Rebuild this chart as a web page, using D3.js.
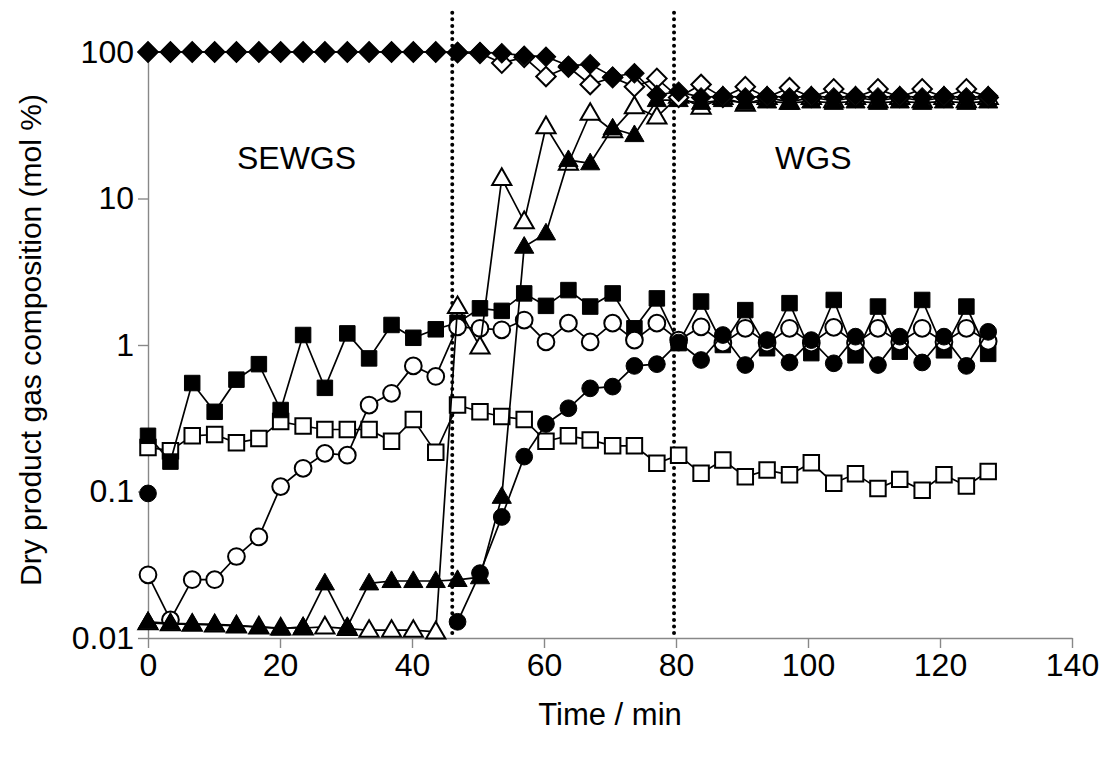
<!DOCTYPE html>
<html>
<head>
<meta charset="utf-8">
<script src="https://cdn.jsdelivr.net/npm/d3@7"></script>
<style>
  body { margin: 0; background: #fff; }
  text { font-family: Arial, "Liberation Sans", sans-serif; fill: #000; }
</style>
</head>
<body>
<div id="chart"></div>
<script>
// sample times (min)
var times = [0, 3.4, 6.7, 10.1, 13.4, 16.8, 20.1, 23.5, 26.8, 30.2, 33.5, 36.9, 40.2, 43.6, 46.9,
  50.3, 53.6, 57.0, 60.3, 63.7, 67.0, 70.4, 73.7, 77.1, 80.4, 83.8, 87.1, 90.5, 93.8, 97.2,
  100.5, 103.9, 107.2, 110.6, 113.9, 117.3, 120.6, 124.0, 127.3];

// mol % per series
var openSquares = [0.20, 0.19, 0.24, 0.245, 0.215, 0.23, 0.30, 0.28, 0.265, 0.265, 0.265, 0.22, 0.31, 0.185, 0.39,
  0.35, 0.325, 0.31, 0.22, 0.24, 0.225, 0.205, 0.205, 0.156, 0.177, 0.133, 0.164, 0.126, 0.140, 0.130,
  0.157, 0.114, 0.132, 0.105, 0.121, 0.102, 0.130, 0.109, 0.137];
var closedSquares = [0.24, 0.16, 0.55, 0.35, 0.58, 0.74, 0.36, 1.17, 0.51, 1.2, 0.81, 1.37, 1.12, 1.28, 1.42,
  1.78, 1.71, 2.25, 1.85, 2.37, 1.83, 2.25, 1.30, 2.08, 1.03, 1.98, 1.0, 1.73, 0.95, 1.93,
  0.88, 2.03, 0.85, 1.83, 0.90, 2.03, 0.92, 1.83, 0.87];
var openCircles = [0.027, 0.0133, 0.025, 0.025, 0.036, 0.049, 0.108, 0.144, 0.182, 0.177, 0.389, 0.468, 0.72, 0.61, 1.33,
  1.30, 1.27, 1.48, 1.05, 1.41, 1.05, 1.41, 1.08, 1.41, 1.08, 1.33, 1.03, 1.30, 1.03, 1.30,
  1.03, 1.32, 1.03, 1.30, 1.05, 1.30, 1.05, 1.30, 1.06];
var closedCircles = [0.097, null, null, null, null, null, null, null, null, null, null, null, null, null, 0.0129,
  0.0277, 0.067, 0.173, 0.289, 0.37, 0.506, 0.52, 0.72, 0.74, 1.04, 0.79, 1.17, 0.73, 1.08, 0.76,
  1.08, 0.75, 1.14, 0.73, 1.14, 0.76, 1.14, 0.72, 1.23];
var openTriangles = [0.0127, 0.0125, 0.0124, 0.0123, 0.0121, 0.0119, 0.0117, 0.0117, 0.0119, 0.0116, 0.0113, 0.0113, 0.0113, 0.0110, 1.83,
  0.97, 13.7, 6.95, 30.9, 17.4, 38.2, 29, 42.4, 36, 50, 42, 49, 44, 49, 45.5,
  49, 46.5, 49, 46.5, 49, 46.5, 49, 46.5, 49];
var closedTriangles = [0.0129, 0.0126, 0.0125, 0.0124, 0.0122, 0.0119, 0.0116, 0.0119, 0.0236, 0.0119, 0.0236, 0.0245, 0.0245, 0.0245, 0.0249,
  0.026, 0.092, 4.69, 5.78, 18.3, 17.4, 30.1, 27.1, 47, 47, 45, 47, 45, 46, 45,
  46, 45, 46, 45, 46, 45, 46, 45, 46];
var openDiamonds = [100, 100, 100, 100, 100, 100, 100, 100, 100, 100, 100, 100, 100, 100, 99,
  98, 84, 92, 68, 79, 60, 67, 58, 66, 49, 60, 49, 58, 49, 57,
  49, 56, 49, 56, 49, 56, 49, 56, 49];
var closedDiamonds = [100, 100, 100, 100, 100, 100, 100, 100, 100, 100, 100, 100, 100, 100, 100,
  100, 98, 94.4, 92.9, 80.6, 82.4, 67.8, 71.6, 50.9, 53.6, 49, 50, 49, 50, 49,
  50, 49, 50, 49, 50, 49, 50, 49, 50];

var xTicks = [0, 20, 40, 60, 80, 100, 120, 140];
var yTicks = [0.01, 0.1, 1, 10, 100];
var yTickLabels = ["0.01", "0.1", "1", "10", "100"];
var phaseBounds = [46.1, 79.7];
var phaseLabels = ["SEWGS", "WGS"];
var phaseLabelTimes = [22.5, 100.8];

var width = 1104, height = 757;

var x = d3.scaleLinear().domain([0, 140]).range([148, 1072]);
var y = d3.scaleLog().domain([0.01, 100]).range([638, 52]);

var svg = d3.select("#chart")
  .append("svg")
  .attr("width", width)
  .attr("height", height);

// axes
var xAxis = svg.append("g")
  .attr("transform", "translate(0," + y(0.01) + ")")
  .call(d3.axisBottom(x).tickValues(xTicks).tickSize(10).tickSizeOuter(0).tickPadding(5));
var yAxis = svg.append("g")
  .attr("transform", "translate(" + x(0) + ",0)")
  .call(d3.axisLeft(y).tickValues(yTicks).tickSize(10).tickSizeOuter(0).tickPadding(4)
    .tickFormat(function (d, i) { return yTickLabels[i]; }));

[xAxis, yAxis].forEach(function (g) {
  g.selectAll("path, line").attr("stroke", "#888").attr("stroke-width", 1.4);
  g.selectAll("text").style("font-size", "32px").attr("fill", "#000");
});

svg.append("text")
  .attr("x", 610).attr("y", 725)
  .attr("text-anchor", "middle")
  .style("font-size", "31px")
  .text("Time / min");

svg.append("text")
  .attr("transform", "translate(41,340) rotate(-90)")
  .attr("text-anchor", "middle")
  .style("font-size", "30px")
  .text("Dry product gas composition (mol %)");

// phase boundaries
phaseBounds.forEach(function (t) {
  svg.append("line")
    .attr("x1", x(t)).attr("x2", x(t))
    .attr("y1", y(0.0108)).attr("y2", y(205))
    .attr("stroke", "#000")
    .attr("stroke-width", 4)
    .attr("stroke-linecap", "round")
    .attr("stroke-dasharray", "0,6.6");
});

phaseLabels.forEach(function (s, i) {
  svg.append("text")
    .attr("x", x(phaseLabelTimes[i])).attr("y", y(16))
    .attr("text-anchor", "middle")
    .style("font-size", "32px")
    .text(s);
});

// series, drawn bottom to top
var series = [
  { vals: openSquares, shape: "square", fill: "#fff" },
  { vals: closedSquares, shape: "square", fill: "#000" },
  { vals: openCircles, shape: "circle", fill: "#fff" },
  { vals: closedCircles, shape: "circle", fill: "#000" },
  { vals: openTriangles, shape: "triangle", fill: "#fff" },
  { vals: closedTriangles, shape: "triangle", fill: "#000" },
  { vals: openDiamonds, shape: "diamond", fill: "#fff" },
  { vals: closedDiamonds, shape: "diamond", fill: "#000" }
];

var symbols = {
  square: d3.symbol().type(d3.symbolSquare).size(240),
  circle: d3.symbol().type(d3.symbolCircle).size(220),
  triangle: d3.symbol().type(d3.symbolTriangle).size(160),
  diamond: d3.symbol().type(d3.symbolSquare).size(190)
};

var line = d3.line()
  .defined(function (d) { return d.v != null; })
  .x(function (d) { return x(d.t); })
  .y(function (d) { return y(d.v); });

series.forEach(function (s) {
  var pts = s.vals.map(function (v, i) { return { t: times[i], v: v }; });
  var g = svg.append("g");
  g.append("path")
    .datum(pts)
    .attr("d", line)
    .attr("fill", "none")
    .attr("stroke", "#000")
    .attr("stroke-width", 1.7);
  g.selectAll("path.m")
    .data(pts.filter(function (d) { return d.v != null; }))
    .enter().append("path")
    .attr("class", "m")
    .attr("d", symbols[s.shape])
    .attr("transform", function (d) {
      var tr = "translate(" + x(d.t) + "," + y(d.v) + ")";
      if (s.shape == "diamond") tr += " rotate(45)";
      if (s.shape == "triangle") tr += " translate(0,1)";
      return tr;
    })
    .attr("fill", s.fill)
    .attr("stroke", "#000")
    .attr("stroke-width", s.fill == "#fff" ? 2 : 1);
});
</script>
</body>
</html>
